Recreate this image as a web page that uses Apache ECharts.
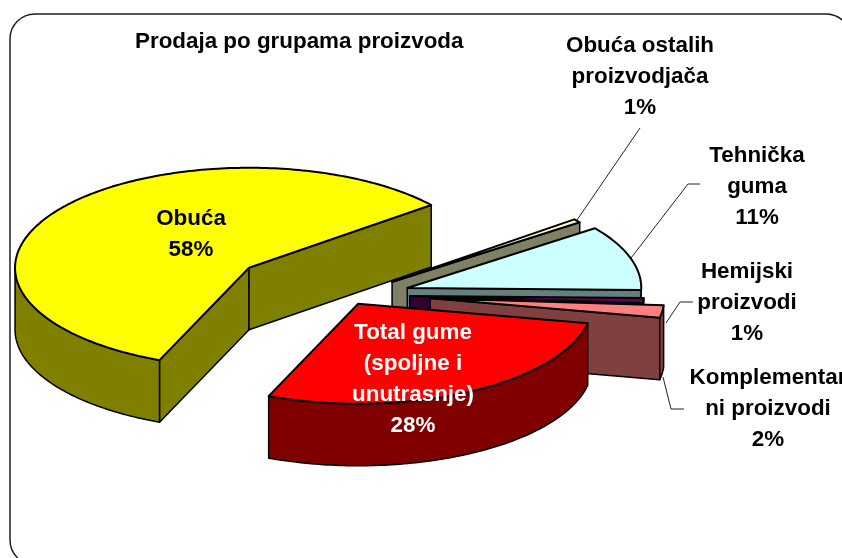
<!DOCTYPE html>
<html>
<head>
<meta charset="utf-8">
<style>
  html, body { margin: 0; padding: 0; background: #fff; overflow: hidden; }
  #chart { width: 842px; height: 558px; }
</style>
<script src="https://cdn.jsdelivr.net/npm/echarts@6/dist/echarts.min.js"></script>
</head>
<body>
<div id="chart"></div>
<script>
var chartTitle = 'Prodaja po grupama proizvoda';
var categories = ['Obuća', 'Obuća ostalih\nproizvodjača', 'Tehnička\nguma', 'Hemijski\nproizvodi', 'Komplementar\nni proizvodi', 'Total gume\n(spoljne i\nunutrasnje)'];
var values = [57.9, 0.6, 10.5, 0.8, 2.0, 28.1];

// colours: top face, side wall, label
var topColors = ['#FFFF00', '#FFFFCC', '#CCFFFF', '#660066', '#FF8080', '#FF0000'];
var wallColors = ['#808000', '#808066', '#668080', '#330033', '#804040', '#800000'];
var labelColors = ['#000', '#000', '#000', '#000', '#000', '#fff'];

// pie layout: flattened ellipse, how far each slice is pulled out of the centre
var pie = { cx: 356, cy: 299, rx: 234, ry: 100, depth: 62, startAngle: 247.5 };
var explode = [0.571, 0.195, 0.23, 0.23, 0.32, 0.02];
var lift = [3, -5, -4, -4, -5, 3];

// text layout
var labelPos = [[191, 234], [640, 77], [757, 187], [747, 303], [768, 409], [413, 379]];
var leaders = [
  null,
  [[640, 128], [577, 220]],
  [[700, 184], [688, 184], [631, 258]],
  [[693, 302], [680, 302], [666, 323]],
  [[684, 409], [671, 409], [663, 377]],
  null
];

var total = values.reduce(function (a, b) { return a + b; }, 0);

function rad(d) { return d * Math.PI / 180; }

function rimPoint(c, deg, dy) {
  return [c[0] + pie.rx * Math.cos(rad(deg)), c[1] - pie.ry * Math.sin(rad(deg)) + (dy || 0)];
}

function arcPoints(c, from, to, dy) {
  var pts = [];
  var n = Math.max(2, Math.ceil(Math.abs(from - to)));
  for (var i = 0; i <= n; i++) {
    pts.push(rimPoint(c, from + (to - from) * i / n, dy));
  }
  return pts;
}

function poly(points, fill, lw) {
  return {
    type: 'polygon',
    shape: { points: points },
    style: { fill: fill, stroke: '#000', lineWidth: lw, lineJoin: 'round' }
  };
}

function renderSlice(params, api) {
  var i = params.dataIndex;
  var value = api.value(1);

  var before = 0;
  for (var k = 0; k < i; k++) before += values[k];
  var a0 = pie.startAngle - before / total * 360;
  var a1 = a0 - value / total * 360;
  var mid = (a0 + a1) / 2;

  var c = [
    pie.cx + explode[i] * pie.rx * Math.cos(rad(mid)),
    pie.cy - explode[i] * pie.ry * Math.sin(rad(mid)) + lift[i]
  ];
  var down = [c[0], c[1] + pie.depth];
  var children = [];

  // radial walls, only when they face the viewer
  if (Math.cos(rad(a0)) < 0) {
    var p0 = rimPoint(c, a0);
    children.push(poly([c, p0, [p0[0], p0[1] + pie.depth], down], wallColors[i], 1.5));
  }
  if (Math.cos(rad(a1)) > 0) {
    var p1 = rimPoint(c, a1);
    children.push(poly([c, p1, [p1[0], p1[1] + pie.depth], down], wallColors[i], 1.5));
  }

  // outer wall, front half of the ellipse only
  [[-180, 0], [180, 360]].forEach(function (front) {
    var hi = Math.min(a0, front[1]);
    var lo = Math.max(a1, front[0]);
    if (hi > lo) {
      var upper = arcPoints(c, hi, lo, 0);
      var lower = arcPoints(c, lo, hi, pie.depth);
      children.push(poly(upper.concat(lower), wallColors[i], 1.5));
    }
  });

  // top face
  children.push(poly([c].concat(arcPoints(c, a0, a1, 0)), topColors[i], 2));

  if (leaders[i]) {
    children.push({
      type: 'polyline',
      shape: { points: leaders[i] },
      style: { fill: null, stroke: '#222', lineWidth: 1 }
    });
  }

  children.push({
    type: 'text',
    x: labelPos[i][0],
    y: labelPos[i][1],
    style: {
      text: categories[i] + '\n' + Math.round(value) + '%',
      fill: labelColors[i],
      font: 'bold 22.4px "Liberation Sans", Arial, sans-serif',
      lineHeight: 31,
      align: 'center',
      verticalAlign: 'middle'
    }
  });

  return { type: 'group', children: children };
}

var chart = echarts.init(document.getElementById('chart'), null, { renderer: 'canvas' });

chart.setOption({
  backgroundColor: '#ffffff',
  animation: false,
  title: {
    text: chartTitle,
    left: 130,
    top: 26,
    textStyle: { color: '#000', fontFamily: '"Liberation Sans", Arial, sans-serif', fontWeight: 'bold', fontSize: 22.4 }
  },
  graphic: [{
    type: 'rect',
    silent: true,
    shape: { x: 10, y: 14, width: 841, height: 551, r: 25 },
    style: { fill: null, stroke: '#222', lineWidth: 1.5 }
  }],
  series: [{
    type: 'custom',
    coordinateSystem: 'none',
    silent: true,
    renderItem: renderSlice,
    data: values.map(function (v, i) { return [i, v]; })
  }]
});
</script>
</body>
</html>
